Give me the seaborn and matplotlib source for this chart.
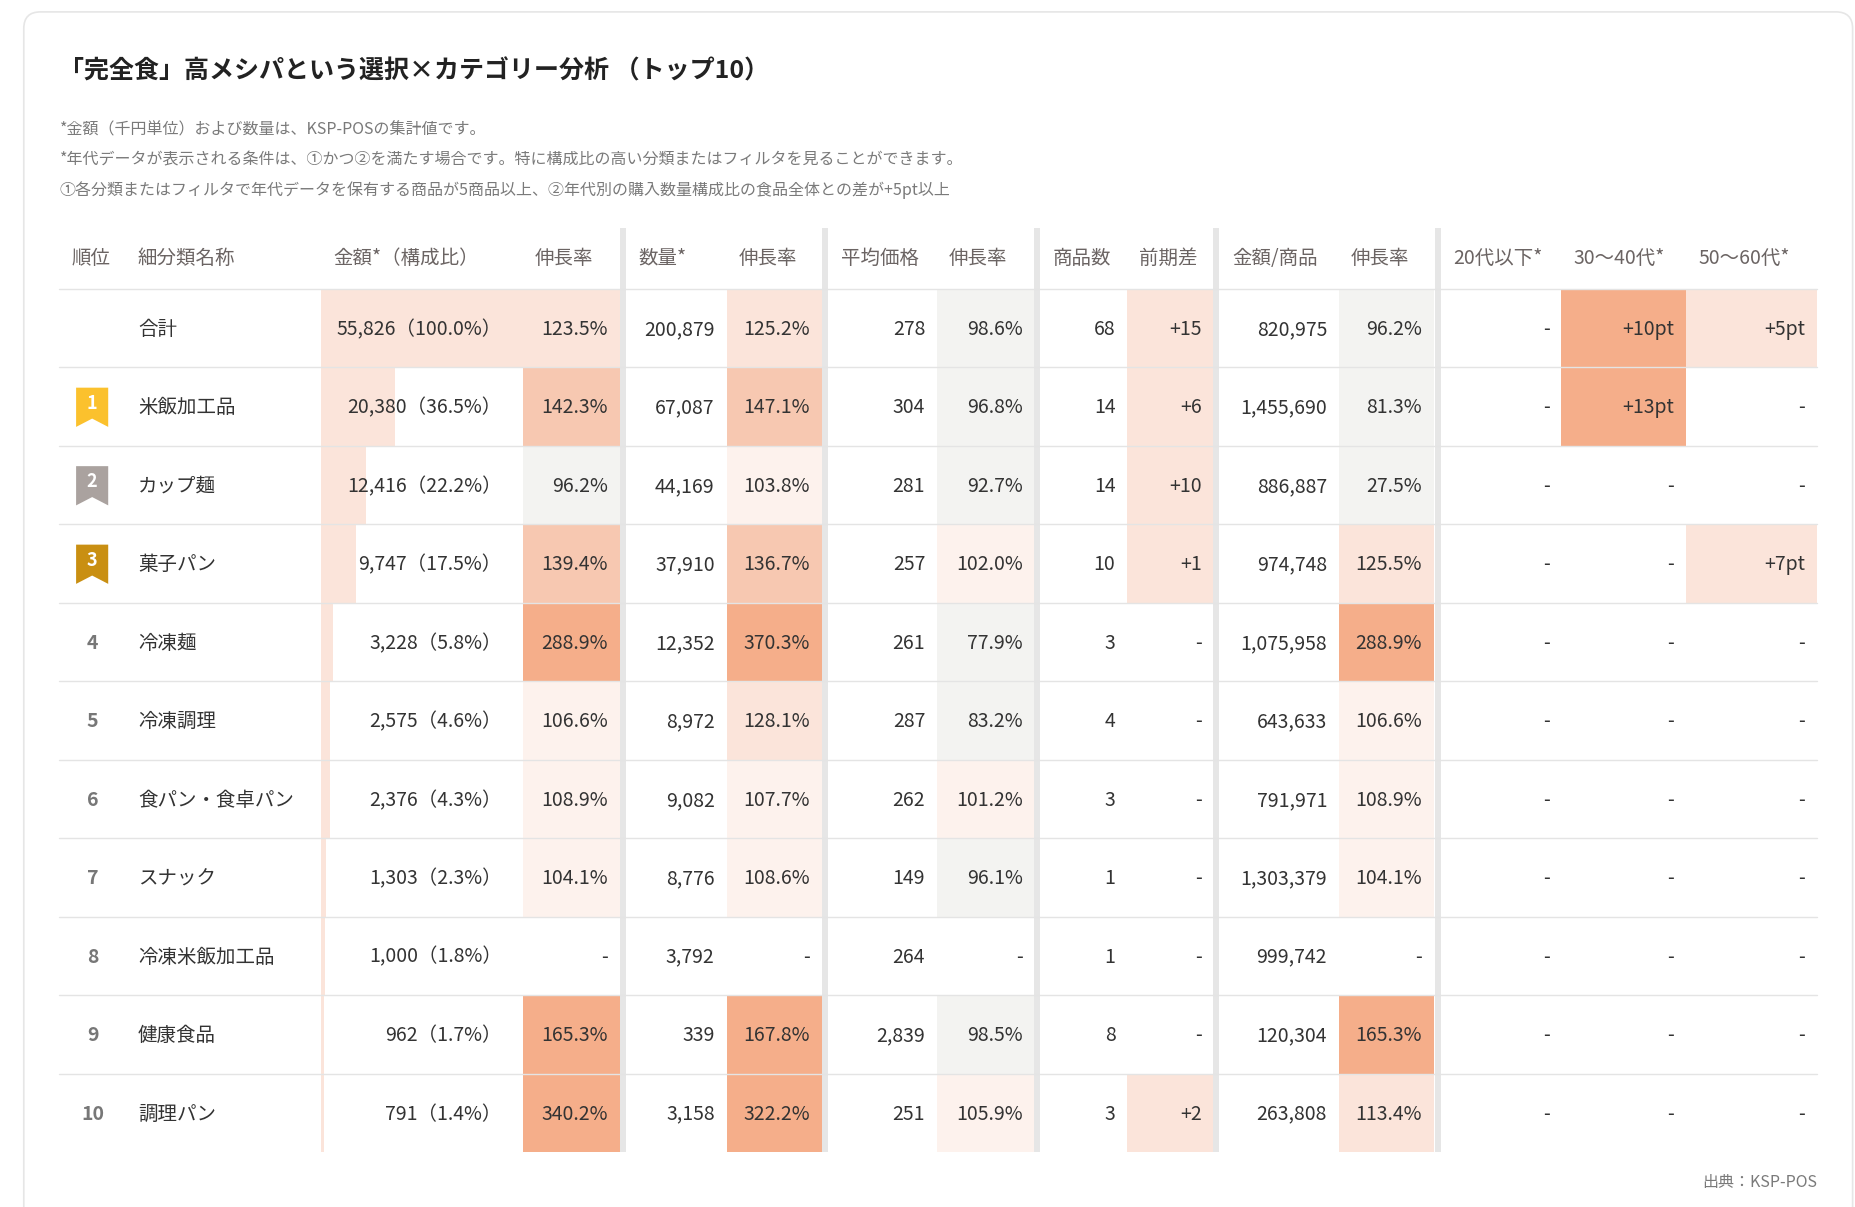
import numpy as np
import pandas as pd
import seaborn as sns
import matplotlib.pyplot as plt
from matplotlib.patches import Rectangle, FancyBboxPatch, Polygon

sns.set_theme(style="white")
plt.rcParams['font.family'] = ['Noto Sans CJK JP', 'DejaVu Sans']

title = '「完全食」高メシパという選択×カテゴリー分析 （トップ10）'
notes = [
    '*金額（千円単位）および数量は、KSP-POSの集計値です。',
    '*年代データが表示される条件は、①かつ②を満たす場合です。特に構成比の高い分類またはフィルタを見ることができます。',
    '①各分類またはフィルタで年代データを保有する商品が5商品以上、②年代別の購入数量構成比の食品全体との差が+5pt以上',
]
headers = ['順位', '細分類名称', '金額*（構成比）', '伸長率', '数量*', '伸長率', '平均価格', '伸長率',
           '商品数', '前期差', '金額/商品', '伸長率', '20代以下*', '30〜40代*', '50〜60代*']

ranks = ['', '1', '2', '3', '4', '5', '6', '7', '8', '9', '10']
names = ['合計', '米飯加工品', 'カップ麺', '菓子パン', '冷凍麺', '冷凍調理', '食パン・食卓パン',
         'スナック', '冷凍米飯加工品', '健康食品', '調理パン']
amount = [55826, 20380, 12416, 9747, 3228, 2575, 2376, 1303, 1000, 962, 791]
share = [100.0, 36.5, 22.2, 17.5, 5.8, 4.6, 4.3, 2.3, 1.8, 1.7, 1.4]
amount_growth = [123.5, 142.3, 96.2, 139.4, 288.9, 106.6, 108.9, 104.1, None, 165.3, 340.2]
qty = [200879, 67087, 44169, 37910, 12352, 8972, 9082, 8776, 3792, 339, 3158]
qty_growth = [125.2, 147.1, 103.8, 136.7, 370.3, 128.1, 107.7, 108.6, None, 167.8, 322.2]
price = [278, 304, 281, 257, 261, 287, 262, 149, 264, 2839, 251]
price_growth = [98.6, 96.8, 92.7, 102.0, 77.9, 83.2, 101.2, 96.1, None, 98.5, 105.9]
items = [68, 14, 14, 10, 3, 4, 3, 1, 1, 8, 3]
items_diff = [15, 6, 10, 1, None, None, None, None, None, None, 2]
per_item = [820975, 1455690, 886887, 974748, 1075958, 643633, 791971, 1303379, 999742, 120304, 263808]
per_item_growth = [96.2, 81.3, 27.5, 125.5, 288.9, 106.6, 108.9, 104.1, None, 165.3, 113.4]
age_20 = [None] * 11
age_30_40 = [10, 13, None, None, None, None, None, None, None, None, None]
age_50_60 = [5, None, None, 7, None, None, None, None, None, None, None]

df = pd.DataFrame({'rank': ranks, 'name': names, 'amount': amount, 'share': share,
                   'amount_growth': amount_growth, 'qty': qty, 'qty_growth': qty_growth,
                   'price': price, 'price_growth': price_growth, 'items': items,
                   'items_diff': items_diff, 'per_item': per_item,
                   'per_item_growth': per_item_growth, 'age_20': age_20,
                   'age_30_40': age_30_40, 'age_50_60': age_50_60})

pal = sns.color_palette(['#fdf2ed', '#fbe4da', '#f7c8b1', '#f5ae8a'])
GRAY_CELL = '#f3f3f1'
TEXT = '#333333'
FS = 14


def growth_colour(v):
    if v is None or pd.isna(v):
        return None
    if v < 100:
        return GRAY_CELL
    if v < 110:
        return pal[0]
    if v < 130:
        return pal[1]
    if v < 150:
        return pal[2]
    return pal[3]


def fmt_pct(v):
    return '-' if v is None or pd.isna(v) else f'{v:.1f}%'


def fmt_int(v):
    return f'{int(v):,}'


def fmt_diff(v, suffix=''):
    return '-' if v is None or pd.isna(v) else f'+{int(v)}{suffix}'


W, H = 1560, 1015
fig = plt.figure(figsize=(18.55, 12.07), dpi=100)
ax = fig.add_axes([0, 0, 1, 1])
ax.set_xlim(0, W)
ax.set_ylim(H, 0)
ax.axis('off')

ax.add_patch(FancyBboxPatch((20, 10), 1538, 1060, boxstyle='round,pad=0,rounding_size=14',
                            fc='white', ec='#e6e6e6', lw=1.2))
ax.text(50, 60, title, fontsize=18, fontweight='bold', color='#222222', va='center')
for i, n in enumerate(notes):
    ax.text(50, 109 + i * 25.5, n, fontsize=11.5, color='#7a7a7a', va='center')

# column layout: (left, right) edges
cols = [(50, 105), (105, 270), (270, 440), (440, 521), (527, 611), (611, 691), (697, 788),
        (788, 870), (875, 948), (948, 1021), (1026, 1126), (1126, 1206), (1212, 1313),
        (1313, 1418), (1418, 1528)]
seps = [524, 694, 872, 1023, 1209]
row_top, row_h = 243, 66
n_rows = len(df)

for i, h in enumerate(headers):
    x = cols[i][0] + 10
    if i == 0:
        x = 60
    if i == 1:
        x = 116
    ax.text(x, 217, h, fontsize=FS, color='#6b6463', va='center')

for r, row in df.iterrows():
    y0 = row_top + r * row_h
    yc = y0 + row_h / 2 + 1

    # amount share bar
    l, rr = cols[2]
    ax.add_patch(Rectangle((l, y0), (rr - l) * row['share'] / 100, row_h, fc=pal[1], lw=0))

    values = [
        (3, fmt_pct(row['amount_growth']), growth_colour(row['amount_growth'])),
        (4, fmt_int(row['qty']), None),
        (5, fmt_pct(row['qty_growth']), growth_colour(row['qty_growth'])),
        (6, fmt_int(row['price']), None),
        (7, fmt_pct(row['price_growth']), growth_colour(row['price_growth'])),
        (8, fmt_int(row['items']), None),
        (9, fmt_diff(row['items_diff']), pal[1] if pd.notna(row['items_diff']) else None),
        (10, fmt_int(row['per_item']), None),
        (11, fmt_pct(row['per_item_growth']), growth_colour(row['per_item_growth'])),
    ]
    for key, ci in (('age_20', 12), ('age_30_40', 13), ('age_50_60', 14)):
        v = row[key]
        c = None
        if pd.notna(v):
            c = pal[3] if v >= 10 else pal[1]
        values.append((ci, fmt_diff(v, 'pt'), c))

    for ci, txt, c in values:
        l, rr = cols[ci]
        if c is not None:
            ax.add_patch(Rectangle((l, y0), rr - l, row_h, fc=c, lw=0))
        ax.text(rr - 10, yc, txt, fontsize=FS, color=TEXT, ha='right', va='center')

    ax.text(cols[2][1] - 18, yc, f"{fmt_int(row['amount'])}（{row['share']:.1f}%）",
            fontsize=FS, color=TEXT, ha='right', va='center')
    ax.text(116, yc, row['name'], fontsize=FS, color=TEXT, va='center')

    rank = row['rank']
    if rank in ('1', '2', '3'):
        bc = {'1': '#fbc12d', '2': '#aaa29f', '3': '#c98f12'}[rank]
        bx, by, bw, bh = 64, yc - 17, 27, 33
        ax.add_patch(Polygon([(bx, by), (bx + bw, by), (bx + bw, by + bh), (bx + bw / 2, by + bh - 7),
                              (bx, by + bh)], closed=True, fc=bc, lw=0))
        ax.text(bx + bw / 2, yc - 4, rank, fontsize=13, color='white', fontweight='bold',
                ha='center', va='center')
    elif rank:
        ax.text(78, yc, rank, fontsize=FS, color='#777777', fontweight='bold',
                ha='center', va='center')

    if r < n_rows - 1:
        ax.plot([50, 1528], [y0 + row_h, y0 + row_h], color='#e4e4e4', lw=1)

ax.plot([50, 1528], [row_top, row_top], color='#e4e4e4', lw=1)
bottom = row_top + n_rows * row_h
for s in seps:
    ax.add_patch(Rectangle((s - 2.5, 192), 5, bottom - 192, fc='#e6e6e6', lw=0))

ax.text(1528, 994, '出典：KSP-POS', fontsize=11.5, color='#7a7a7a', ha='right', va='center')

fig.savefig('out.png', dpi=100, facecolor='white')
